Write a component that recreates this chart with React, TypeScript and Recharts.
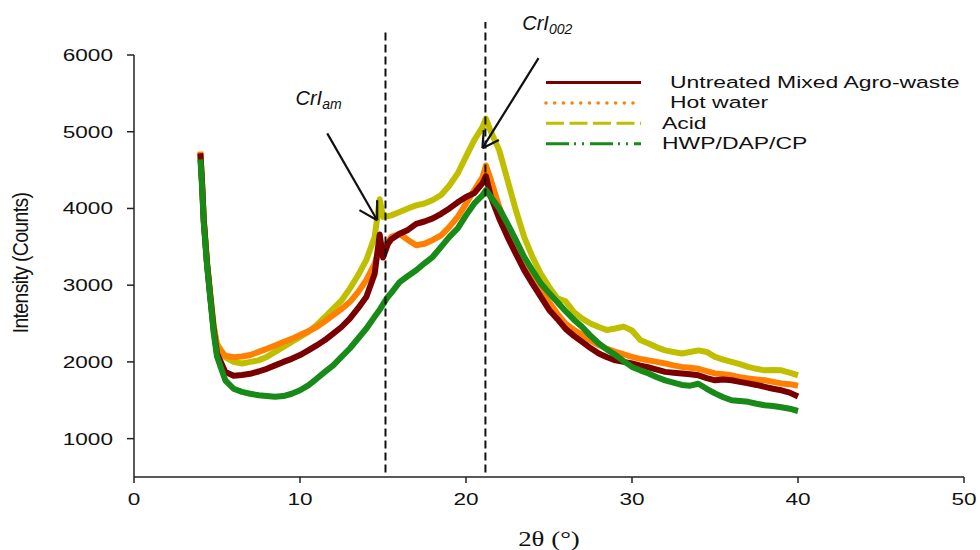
import React from "react";
import { LineChart, Line, XAxis, YAxis, ReferenceLine, ReferenceDot } from "recharts";

// 2θ positions (degrees)
const twoTheta = [
  4, 4.1, 4.2, 4.4, 4.6, 4.8, 5, 5.5, 6, 6.5, 7, 7.5, 8, 8.5, 9, 9.5, 10, 10.5, 11, 11.5,
  12, 12.5, 13, 13.5, 14, 14.5, 14.8, 15, 15.3, 15.5, 16, 16.5, 17, 17.5, 18, 18.5, 19, 19.5, 20, 20.5,
  21, 21.2, 21.5, 22, 22.5, 23, 23.5, 24, 24.5, 25, 25.5, 26, 26.5, 27, 27.5, 28, 28.5, 29, 29.5, 30,
  30.5, 31, 31.5, 32, 32.5, 33, 33.5, 34, 34.5, 35, 35.5, 36, 36.5, 37, 37.5, 38, 38.5, 39, 39.5, 40,
];

const untreated = [
  4720, 4330, 3850, 3280, 2840, 2420, 2110, 1870, 1820, 1830, 1845, 1875, 1910, 1955, 2000, 2040, 2090, 2150, 2215, 2285,
  2370, 2455, 2565, 2700, 2850, 3150, 3660, 3360, 3540, 3600, 3670, 3720, 3800, 3830, 3870, 3930, 4000, 4080, 4150, 4200,
  4330, 4420, 4150, 3870, 3630, 3410, 3200, 3020, 2850, 2680, 2560, 2430, 2340, 2260, 2180, 2110, 2060, 2020, 2000, 1980,
  1950, 1930, 1900, 1870, 1860, 1850, 1840, 1825, 1790, 1760, 1770, 1760, 1740, 1720, 1700, 1675, 1650, 1630, 1600, 1550,
];

const hotWater = [
  4740, 4340, 3870, 3300, 2870, 2470, 2200, 2080, 2060, 2070, 2090, 2130, 2170, 2215, 2260, 2300, 2350, 2400, 2455, 2530,
  2610, 2690, 2780, 2910, 3070, 3280, 3500, 3480, 3560, 3630, 3670, 3590, 3520, 3540, 3590, 3650, 3760, 3890, 4060, 4240,
  4410, 4560, 4370, 4020, 3740, 3480, 3280, 3110, 2940, 2780, 2630, 2500, 2420, 2350, 2280, 2220, 2170, 2130, 2100, 2065,
  2040, 2020, 2000, 1980, 1955, 1935, 1925, 1910, 1880, 1850, 1840, 1825, 1800, 1785, 1770, 1760, 1740, 1720, 1710, 1690,
];

const acid = [
  4700, 4320, 3860, 3290, 2860, 2460, 2240, 2060, 2000, 1980, 2000, 2020, 2065, 2130, 2195, 2260, 2325, 2390, 2480, 2585,
  2695, 2800, 2955, 3130, 3330, 3630, 4120, 3890, 3900, 3910, 3955, 4000, 4040, 4065, 4110, 4175, 4300, 4455, 4675, 4890,
  5065, 5170, 5000, 4760, 4370, 3980, 3630, 3370, 3150, 2980, 2830, 2790, 2650, 2565, 2500, 2455, 2415, 2435, 2460, 2410,
  2285, 2240, 2190, 2150, 2130, 2110, 2130, 2150, 2130, 2065, 2030, 2000, 1970, 1935, 1910, 1890, 1895, 1890, 1860, 1825,
];

const hwpDapCp = [
  4640, 4280, 3820, 3260, 2820, 2380, 2070, 1760, 1650, 1610, 1585, 1565, 1555, 1545, 1555, 1585, 1630, 1695, 1780, 1870,
  1955, 2065, 2175, 2305, 2435, 2590, 2680, 2750, 2850, 2900, 3040, 3120, 3195, 3285, 3370, 3500, 3630, 3740, 3910, 4065,
  4175, 4240, 4150, 4000, 3800, 3590, 3370, 3195, 3025, 2900, 2780, 2660, 2550, 2455, 2340, 2240, 2160, 2090, 2010, 1935,
  1890, 1850, 1800, 1760, 1730, 1700, 1690, 1715, 1650, 1590, 1540, 1500, 1490, 1480, 1455, 1435, 1425, 1410, 1390, 1360,
];

const xTicks = [0, 10, 20, 30, 40, 50];
const yTicks = [1000, 2000, 3000, 4000, 5000, 6000];

// peak positions marked with dashed lines
const peakLines = [15.15, 21.17];

const data = twoTheta.map((x, i) => ({
  x,
  untreated: untreated[i],
  hotWater: hotWater[i],
  acid: acid[i],
  hwpDapCp: hwpDapCp[i],
}));

const SERIES = [
  { key: "acid", name: "Acid", color: "#bfbf00", dash: "18 5.5", width: 3, cap: "butt", textX: 662 },
  { key: "hotWater", name: "Hot water", color: "#ff8000", dash: "0 8.7", width: 3.5, cap: "round", textX: 670 },
  { key: "untreated", name: "Untreated Mixed Agro-waste", color: "#7a0000", dash: undefined, width: 3, cap: "butt", textX: 670 },
  { key: "hwpDapCp", name: "HWP/DAP/CP", color: "#178a17", dash: "23 5 2 6 2 6", width: 3, cap: "butt", textX: 662 },
];
const LEGEND_ORDER = ["untreated", "hotWater", "acid", "hwpDapCp"];

const FONT = "'Liberation Sans', Arial, sans-serif";

const XTick = ({ x, y, payload }: any) => (
  <text transform={`translate(${x},${y}) scale(1.33,1)`} textAnchor="middle" dy="0.71em" fontSize={17} fill="#111" fontFamily={FONT}>
    {payload.value}
  </text>
);

const YTick = ({ x, y, payload }: any) => (
  <text transform={`translate(${x},${y}) scale(1.33,1)`} textAnchor="end" dy="0.355em" fontSize={17} fill="#111" fontFamily={FONT}>
    {payload.value}
  </text>
);

// legend drawn as an overlay so it doesn't eat plot space
const ChartLegend = () => (
  <svg width={980} height={550} style={{ position: "absolute", left: 0, top: 0, pointerEvents: "none" }}>
    {LEGEND_ORDER.map((k, i) => {
      const s = SERIES.find((d) => d.key === k)!;
      const ly = 82.5 + i * 20.4;
      return (
        <g key={k}>
          <line x1={546} x2={641} y1={ly} y2={ly} stroke={s.color} strokeWidth={s.width}
            strokeDasharray={s.dash} strokeLinecap={s.cap as any} />
          <text transform={`translate(${s.textX},${ly + 5.5}) scale(1.35,1)`} fontSize={17} fill="#111" fontFamily={FONT}>
            {s.name}
          </text>
        </g>
      );
    })}
  </svg>
);

const annotation = (main: string, sub: string) => (props: any) => {
  const vb = props.viewBox || { x: props.x, y: props.y };
  return (
    <text x={vb.x} y={vb.y} fontSize={20} fontStyle="italic" fill="#111" fontFamily={FONT}>
      {main}
      <tspan fontSize={14} dy={4}>{sub}</tspan>
    </text>
  );
};

const arrows = [
  // CrI_am arrow: shaft, then two barbs
  [{ x: 11.64, y: 4978 }, { x: 14.65, y: 3847 }],
  [{ x: 13.58, y: 3978 }, { x: 14.65, y: 3847 }],
  [{ x: 14.65, y: 4108 }, { x: 14.65, y: 3847 }],
  // CrI_002 arrow
  [{ x: 24.37, y: 5960 }, { x: 20.99, y: 4786 }],
  [{ x: 21.98, y: 4891 }, { x: 20.99, y: 4786 }],
  [{ x: 21.07, y: 5021 }, { x: 20.99, y: 4786 }],
];

export default function App() {
  return (
    <div style={{ position: "absolute", left: 0, top: 0, width: 980, height: 550, background: "#fff" }}>
      <LineChart width={980} height={550} data={data} margin={{ top: 55, right: 16, left: 0, bottom: 0 }}>
        <XAxis
          dataKey="x"
          type="number"
          domain={[0, 50]}
          ticks={xTicks}
          height={73}
          tickSize={6}
          tickMargin={10}
          tick={<XTick />}
          stroke="#222"
          strokeWidth={1.5}
          label={{
            content: (p: any) => {
              const vb = p.viewBox;
              return (
                <text transform={`translate(${vb.x + vb.width / 2},${vb.y + vb.height - 4}) scale(1.28,1)`}
                  textAnchor="middle" fontSize={21} fill="#111" fontFamily="'Liberation Serif', 'Times New Roman', serif">
                  2θ (°)
                </text>
              );
            },
          }}
        />
        <YAxis
          type="number"
          domain={[500, 6000]}
          ticks={yTicks}
          width={134}
          tickSize={7}
          tickMargin={14}
          tick={<YTick />}
          stroke="#222"
          strokeWidth={1.5}
          label={{
            content: () => (
              <text transform="translate(28,263) rotate(-90) scale(1.08,1.25)" textAnchor="middle" fontSize={18}
                fill="#111" fontFamily={FONT} letterSpacing={-0.6}>
                Intensity (Counts)
              </text>
            ),
          }}
        />
        {SERIES.map((s) => (
          <Line
            key={s.key}
            type="linear"
            dataKey={s.key}
            name={s.name}
            stroke={s.color}
            strokeWidth={6}
            strokeLinejoin="round"
            dot={false}
            activeDot={false}
            isAnimationActive={false}
          />
        ))}
        {peakLines.map((p, i) => (
          <ReferenceLine
            key={p}
            segment={[{ x: p, y: 560 }, { x: p, y: i === 0 ? 6320 : 6430 }]}
            stroke="#111"
            strokeWidth={2}
            strokeDasharray="8 4"
            ifOverflow="visible"
          />
        ))}
        {arrows.map((seg, i) => (
          <ReferenceLine key={"a" + i} segment={seg} stroke="#111" strokeWidth={2.2} ifOverflow="visible" />
        ))}
        <ReferenceDot x={9.73} y={5347} r={0} ifOverflow="visible" label={annotation("CrI", "am")} />
        <ReferenceDot x={23.39} y={6325} r={0} ifOverflow="visible" label={annotation("CrI", "002")} />
      </LineChart>
      <ChartLegend />
    </div>
  );
}
